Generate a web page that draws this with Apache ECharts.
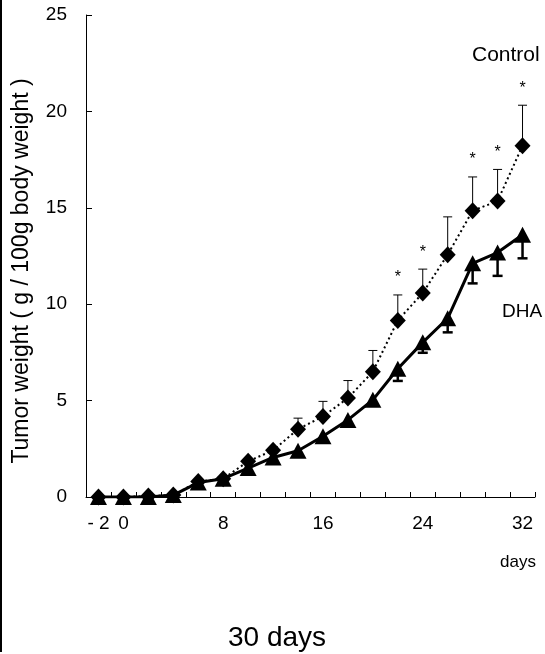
<!DOCTYPE html>
<html>
<head>
<meta charset="utf-8">
<script src="https://cdn.jsdelivr.net/npm/echarts@6/dist/echarts.min.js"></script>
<style>
html,body{margin:0;padding:0;background:#fff;}
#chart{width:545px;height:654px;}
</style>
</head>
<body>
<div id="chart"></div>
<script>
// ---- data ----
const days = [-2, 0, 2, 4, 6, 8, 10, 12, 14, 16, 18, 20, 22, 24, 26, 28, 30, 32];
const shownDayLabels = [-2, 0, 8, 16, 24, 32];
const yTicks = [0, 5, 10, 15, 20, 25];
const controlMean = [0, 0, 0.05, 0.1, 0.8, 0.95, 1.85, 2.42, 3.52, 4.18, 5.13, 6.5, 9.16, 10.58, 12.57, 14.85, 15.35, 18.22];
const controlUpper = [null, null, null, null, null, null, null, null, 4.09, 4.96, 6.04, 7.6, 10.48, 11.82, 14.53, 16.6, 16.99, 20.32];
const dhaMean = [0, 0, 0, 0.1, 0.75, 0.95, 1.5, 2.05, 2.4, 3.15, 4.0, 5.04, 6.65, 8.02, 9.27, 12.12, 12.68, 13.6];
const dhaLower = [null, null, null, null, null, null, null, null, null, null, null, null, 6.02, 7.48, 8.54, 11.08, 11.47, 12.38];
const significantDays = [22, 24, 28, 30, 32];

const FONT = '"Liberation Sans", Arial, sans-serif';
const cats = days.map(String);

function errData(mean, bound) {
  const out = [];
  mean.forEach((m, i) => { if (bound[i] != null) out.push([i, m, bound[i], significantDays.indexOf(days[i]) >= 0 ? 1 : 0]); });
  return out;
}

function makeErrRender(width, capHalf, withStar) {
  return function (params, api) {
    const p0 = api.coord([api.value(0), api.value(1)]);
    const p1 = api.coord([api.value(0), api.value(2)]);
    const children = [
      { type: 'line', shape: { x1: p0[0], y1: p0[1], x2: p1[0], y2: p1[1] }, style: { stroke: '#000', lineWidth: width } },
      { type: 'line', shape: { x1: p1[0] - capHalf, y1: p1[1], x2: p1[0] + capHalf, y2: p1[1] }, style: { stroke: '#000', lineWidth: width } }
    ];
    if (withStar && api.value(3) === 1) {
      children.push({ type: 'text', style: { x: p1[0], y: p1[1] - 17, text: '*', fill: '#000', font: '16px ' + FONT, align: 'center', verticalAlign: 'middle' } });
    }
    return { type: 'group', children: children };
  };
}

const chart = echarts.init(document.getElementById('chart'), null, { renderer: 'canvas' });
chart.setOption({
  animation: false,
  backgroundColor: '#fff',
  textStyle: { fontFamily: FONT, color: '#000' },
  grid: { left: 86, right: 10, top: 15, bottom: 157, containLabel: false },
  xAxis: {
    type: 'category',
    data: cats,
    boundaryGap: true,
    axisLine: { lineStyle: { color: '#000', width: 1 } },
    axisTick: { show: true, inside: true, length: 5, interval: 0, lineStyle: { color: '#000' } },
    axisLabel: {
      interval: 0,
      margin: 17,
      color: '#000',
      fontSize: 19,
      fontFamily: FONT,
      formatter: function (v) { const d = Number(v); return shownDayLabels.indexOf(d) >= 0 ? (d < 0 ? '- ' + Math.abs(d) : String(d)) : ''; }
    },
    splitLine: { show: false }
  },
  yAxis: {
    type: 'value',
    min: yTicks[0], max: yTicks[yTicks.length - 1], interval: 5,
    axisLine: { show: true, lineStyle: { color: '#000', width: 1 } },
    axisTick: { show: true, inside: true, length: 6, lineStyle: { color: '#000' } },
    axisLabel: { color: '#000', fontSize: 19, margin: 19, fontFamily: FONT },
    splitLine: { show: false }
  },
  series: [
    {
      name: 'Control', type: 'line', data: controlMean, z: 3,
      symbol: 'diamond', symbolSize: [16, 17], showAllSymbol: true,
      itemStyle: { color: '#000' },
      lineStyle: { color: '#000', width: 2, type: [2, 3] }
    },
    {
      name: 'DHA', type: 'line', data: dhaMean, z: 4,
      symbol: 'triangle', symbolSize: [17, 16], showAllSymbol: true,
      itemStyle: { color: '#000' },
      lineStyle: { color: '#000', width: 3 }
    },
    {
      type: 'custom', name: 'ctrlErr', z: 2,
      renderItem: makeErrRender(1, 4.5, true),
      data: errData(controlMean, controlUpper),
      encode: { x: 0, y: [1, 2] }
    },
    {
      type: 'custom', name: 'dhaErr', z: 2,
      renderItem: makeErrRender(2.5, 5, false),
      data: errData(dhaMean, dhaLower),
      encode: { x: 0, y: [1, 2] }
    }
  ],
  graphic: [
    { type: 'rect', left: 0, top: 0, shape: { width: 2, height: 652 }, style: { fill: '#000' } },
    { type: 'text', x: 22, y: 271, rotation: Math.PI / 2, style: { text: 'Tumor weight ( g / 100g body weight )', font: '23px ' + FONT, fill: '#000', align: 'center', verticalAlign: 'middle' } },
    { type: 'text', left: 472, top: 45, style: { text: 'Control', font: '21px ' + FONT, fill: '#000' } },
    { type: 'text', left: 502, top: 302, style: { text: 'DHA', font: '19px ' + FONT, fill: '#000' } },
    { type: 'text', left: 500, top: 554, style: { text: 'days', font: '17px ' + FONT, fill: '#000' } },
    { type: 'text', left: 228, top: 624, style: { text: '30 days', font: '28px ' + FONT, fill: '#000' } }
  ]
});
</script>
</body>
</html>
